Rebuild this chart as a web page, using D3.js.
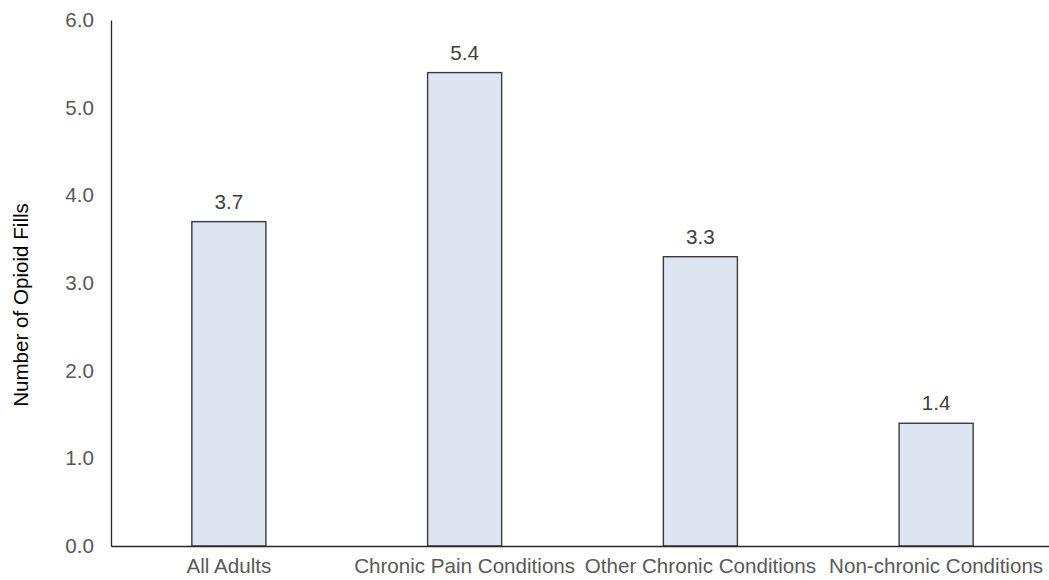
<!DOCTYPE html>
<html>
<head>
<meta charset="utf-8">
<script src="https://cdn.jsdelivr.net/npm/d3@7"></script>
<style>
  html, body { margin: 0; padding: 0; background: #ffffff; }
  svg { display: block; }
  text { font-family: "Liberation Sans", Arial, sans-serif; }
</style>
</head>
<body>
<svg id="chart" width="1049" height="580"></svg>
<script>
// Average number of opioid fills per adult, by condition group
const categories = ["All Adults", "Chronic Pain Conditions", "Other Chronic Conditions", "Non-chronic Conditions"];
const fills = [3.7, 5.4, 3.3, 1.4];
const yTicks = [0, 1, 2, 3, 4, 5, 6];
const yTitle = "Number of Opioid Fills";

const width = 1049, height = 580;
const margin = { top: 20, right: -5, bottom: 34, left: 111 };
const fontSize = 20.6;

const svg = d3.select("#chart");

const x = d3.scaleBand()
  .domain(categories)
  .range([margin.left, width - margin.right])
  .paddingInner(0.686)
  .paddingOuter(0.343);

const y = d3.scaleLinear()
  .domain([0, 6])
  .range([height - margin.bottom, margin.top]);

// Bars
svg.append("g")
  .selectAll("rect")
  .data(categories)
  .join("rect")
  .attr("x", d => x(d))
  .attr("y", (d, i) => y(fills[i]))
  .attr("width", x.bandwidth())
  .attr("height", (d, i) => y(0) - y(fills[i]))
  .attr("fill", "#dce5f1")
  .attr("stroke", "#3a3a3a")
  .attr("stroke-width", 1.4);

// Value labels above bars
svg.append("g")
  .selectAll("text")
  .data(categories)
  .join("text")
  .attr("x", d => x(d) + x.bandwidth() / 2)
  .attr("y", (d, i) => y(fills[i]) - 13)
  .attr("text-anchor", "middle")
  .attr("font-size", fontSize)
  .attr("fill", "#404040")
  .text((d, i) => d3.format(".1f")(fills[i]));

// Y axis
const yAxis = svg.append("g")
  .attr("transform", `translate(${margin.left},0)`)
  .call(d3.axisLeft(y).tickValues(yTicks).tickFormat(d3.format(".1f")).tickSize(0).tickPadding(17));
yAxis.select(".domain").attr("stroke", "#262626").attr("stroke-width", 1.3);
yAxis.selectAll("text")
  .attr("font-size", fontSize)
  .attr("fill", "#595959")
  .attr("font-family", "Liberation Sans, Arial, sans-serif");

// X axis
const xAxis = svg.append("g")
  .attr("transform", `translate(0,${y(0)})`)
  .call(d3.axisBottom(x).tickSize(0).tickPadding(12));
xAxis.select(".domain").attr("stroke", "#262626").attr("stroke-width", 1.3);
xAxis.selectAll("text")
  .attr("font-size", fontSize)
  .attr("fill", "#595959")
  .attr("font-family", "Liberation Sans, Arial, sans-serif");

// Y axis title
svg.append("text")
  .attr("transform", `translate(28,305) rotate(-90)`)
  .attr("text-anchor", "middle")
  .attr("font-size", fontSize)
  .attr("fill", "#000000")
  .text(yTitle);
</script>
</body>
</html>
